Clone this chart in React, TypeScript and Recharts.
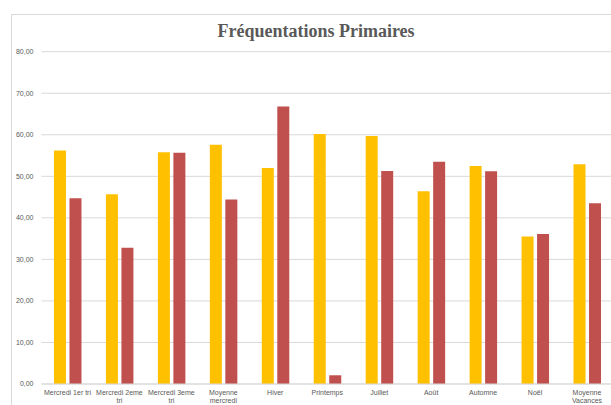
import { BarChart, Bar, XAxis, YAxis, CartesianGrid } from "recharts";

// Categories (x axis)
const categories = [
  "Mercredi 1er tri",
  "Mercredi 2eme tri",
  "Mercredi 3eme tri",
  "Moyenne mercredi",
  "Hiver",
  "Printemps",
  "Juillet",
  "Août",
  "Automne",
  "Noël",
  "Moyenne Vacances",
];

// How each category label wraps under the axis
const tickLines: Record<string, string[]> = {
  "Mercredi 1er tri": ["Mercredi 1er tri"],
  "Mercredi 2eme tri": ["Mercredi 2eme", "tri"],
  "Mercredi 3eme tri": ["Mercredi 3eme", "tri"],
  "Moyenne mercredi": ["Moyenne", "mercredi"],
  "Moyenne Vacances": ["Moyenne", "Vacances"],
};

// Series values
const serieJaune = [56.2, 45.7, 55.8, 57.6, 52.0, 60.2, 59.7, 46.4, 52.5, 35.5, 52.9];
const serieRouge = [44.7, 32.8, 55.7, 44.4, 66.8, 2.1, 51.3, 53.5, 51.2, 36.1, 43.5];

const yTicks = [0, 10, 20, 30, 40, 50, 60, 70, 80];

const data = categories.map((name, i) => ({
  name,
  jaune: serieJaune[i],
  rouge: serieRouge[i],
}));

const labelFont = "'Liberation Sans', Arial, sans-serif";

const XTick = (props: any) => {
  const { x, payload } = props;
  const lines = tickLines[payload.value] || [payload.value];
  return (
    <text
      x={x}
      y={384}
      textAnchor="middle"
      fontSize={7}
      fill="#595959"
      fontFamily={labelFont}
    >
      {lines.map((l: string, i: number) => (
        <tspan key={i} x={x} dy={i === 0 ? 11 : 7.8}>
          {l}
        </tspan>
      ))}
    </text>
  );
};

const App = () => {
  return (
    <div
      style={{
        position: "absolute",
        left: 0,
        top: 0,
        width: 611,
        height: 405,
        overflow: "hidden",
        background: "#fff",
      }}
    >
      <div
        style={{
          position: "absolute",
          left: 11,
          top: 14,
          width: 640,
          height: 420,
          border: "1px solid #d9d9d9",
        }}
      />
      <div
        style={{
          position: "absolute",
          left: 0,
          top: 21,
          width: 611,
          textAlign: "center",
          fontFamily: "'Liberation Serif', 'DejaVu Serif', serif",
          fontWeight: "bold",
          fontSize: 18,
          color: "#595959",
          paddingLeft: 21,
          boxSizing: "border-box",
        }}
      >
        Fréquentations Primaires
      </div>
      <div style={{ position: "absolute", left: 0, top: 0 }}>
        <BarChart
          width={640}
          height={425}
          data={data}
          margin={{ top: 51.7, right: 27, left: 0, bottom: 20 }}
          barCategoryGap="24%"
          barGap={3.5}
        >
          <CartesianGrid vertical={false} stroke="#d9d9d9" />
          <XAxis
            dataKey="name"
            tick={<XTick />}
            tickLine={false}
            tickSize={0}
            axisLine={{ stroke: "#d9d9d9" }}
            interval={0}
            height={21}
          />
          <YAxis
            width={41.5}
            domain={[0, 80]}
            ticks={yTicks}
            tickFormatter={(v: number) => v.toFixed(2).replace(".", ",")}
            tickLine={false}
            axisLine={false}
            tickSize={0}
            tickMargin={8}
            tick={{ fontSize: 7, fill: "#595959", fontFamily: labelFont }}
          />
          <Bar dataKey="jaune" fill="#FFC000" isAnimationActive={false} />
          <Bar dataKey="rouge" fill="#C0504D" isAnimationActive={false} />
        </BarChart>
      </div>
    </div>
  );
};

export default App;
